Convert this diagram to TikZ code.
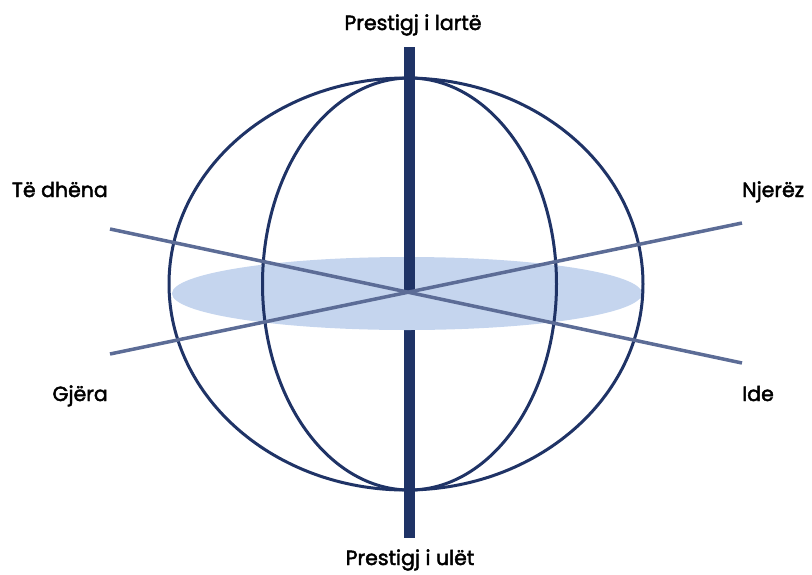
\documentclass[tikz,border=0pt]{standalone}
\usepackage{fontspec}
\setmainfont{Poppins}[FakeBold=2.2]
\definecolor{navy}{HTML}{1F3366}
\definecolor{axisgray}{HTML}{5C6C96}
\definecolor{disc}{HTML}{C5D5EE}
\begin{document}
\begin{tikzpicture}[x=1pt,y=-1pt,
  ring/.style={draw=navy,line width=3pt},
  bar/.style={draw=navy,line width=11pt},
  axisline/.style={draw=axisgray,line width=3.5pt},
  lab/.style={font=\fontsize{20.5}{24}\selectfont, text=black, inner sep=0pt}]
\useasboundingbox (0,0) rectangle (812,574);
% vertical bar, lower part (behind disc)
\coordinate (bt) at (409.5,47);
\coordinate (bc) at (409.5,293);
\coordinate (bb) at (409.5,538);
\draw[bar] (bc) -- (bb);
% rings
\draw[ring] (406,284) ellipse [x radius=237, y radius=206];
\draw[ring] (409.5,284) ellipse [x radius=147, y radius=206];
% disc
\fill[disc] (407,293.5) ellipse [x radius=235, y radius=36.5];
% redraw ring strokes over disc
\begin{scope}
\clip (407,293.5) ellipse [x radius=236, y radius=37.5];
\draw[ring] (406,284) ellipse [x radius=237, y radius=206];
\draw[ring] (409.5,284) ellipse [x radius=147, y radius=206];
\end{scope}
% upper bar
\draw[bar] (bt) -- (bc);
% axes
\coordinate (a1) at (110,229);
\coordinate (a2) at (742,363);
\coordinate (b1) at (110,354);
\coordinate (b2) at (742,223);
\draw[axisline] (a1) -- (a2);
\draw[axisline] (b1) -- (b2);
% labels
\node[lab,anchor=base] (top) at (413,30) {Prestigj i lartë};
\node[lab,anchor=base] (bot) at (410,565) {Prestigj i ulët};
\node[lab,anchor=base east] (td) at (108,197) {Të dhëna};
\node[lab,anchor=base west] (nj) at (742,197) {Njerëz};
\node[lab,anchor=base east] (gj) at (108,401) {Gjëra};
\node[lab,anchor=base west] (ide) at (742,401) {Ide};
\end{tikzpicture}
\end{document}
